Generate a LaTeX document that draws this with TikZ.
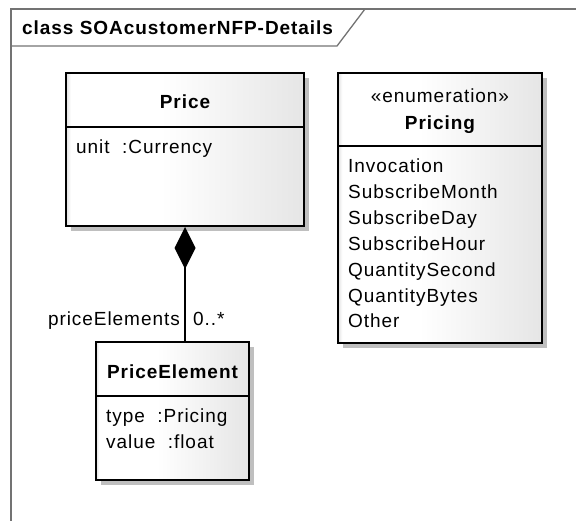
\documentclass[tikz,border=0pt]{standalone}
\usepackage{fontspec}
\setmainfont{Liberation Sans}[LetterSpace=5]
\usetikzlibrary{shadows}
\usetikzlibrary{positioning}
\usetikzlibrary{arrows.meta}
\pgfdeclarehorizontalshading{umlfill}{100bp}{color(0bp)=(black!12); color(25bp)=(black!12); color(26bp)=(white); color(45bp)=(white); color(75bp)=(black!10); color(100bp)=(black!10)}

\begin{document}
\begin{tikzpicture}
  [x=1pt,y=-1pt,
  classbox/.style={rectangle,draw=black,line width=2pt,inner sep=0pt,shade,shading=umlfill,drop shadow={shadow xshift=5pt,shadow yshift=-5pt,fill=black!25,opacity=1}},
  txt/.style={inner sep=0pt,font=\fontsize{19}{22}\selectfont},
  boldtxt/.style={inner sep=0pt,font=\fontsize{19}{22}\selectfont\bfseries},
  divider/.style={black,line width=1.5pt},
  framepen/.style={black!55,line width=1.3pt}]
  \useasboundingbox (0,0) rectangle (576,521);

  \draw [framepen] (576,9) -- (11,9) -- (11,521);
  \draw [framepen] (11,46) -- (337,46) -- (365,9);
  \node[boldtxt,anchor=base west] (frameTitle) at (22,35) {class SOAcustomerNFP-Details};

  \node[classbox,minimum width=238pt,minimum height=153pt] (price) at (185,149.5) {};
  \node[classbox,minimum width=204pt,minimum height=270pt] (pricing) at (440,208) {};
  \node[classbox,minimum width=153pt,minimum height=138pt] (priceElem) at (172.5,411) {};

  \draw [divider] (price.west |- 0,127) -- (price.east |- 0,127);
  \draw [divider] (pricing.west |- 0,146) -- (pricing.east |- 0,146);
  \draw [divider] (priceElem.west |- 0,396) -- (priceElem.east |- 0,396);

  \node[boldtxt,anchor=base] (priceName) at (185,109) {Price};
  \node[txt,anchor=base west] (priceAttr) at (76,154) {unit\ \ :Currency};

  \node[txt,anchor=base] (stereo) at (440,103) {«enumeration»};
  \node[boldtxt,anchor=base] (pricingName) at (440,130) {Pricing};
  \node[txt,anchor=base west] (lit1) at (348,173) {Invocation};
  \node[txt,anchor=base west] (lit2) at (348,198.8) {SubscribeMonth};
  \node[txt,anchor=base west] (lit3) at (348,224.7) {SubscribeDay};
  \node[txt,anchor=base west] (lit4) at (348,250.5) {SubscribeHour};
  \node[txt,anchor=base west] (lit5) at (348,276.3) {QuantitySecond};
  \node[txt,anchor=base west] (lit6) at (348,302.2) {QuantityBytes};
  \node[txt,anchor=base west] (lit7) at (348,328) {Other};

  \node[boldtxt,anchor=base] (elemName) at (172.5,379) {PriceElement};
  \node[txt,anchor=base west] (elemAttr1) at (106,423) {type\ \ :Pricing};
  \node[txt,anchor=base west] (elemAttr2) at (106,449) {value\ \ :float};

  \draw [black,line width=1.5pt,-{Diamond[length=42pt,width=21pt,fill=black]}] (priceElem.north -| price.south) -- (price.south);
  \node[txt,anchor=base east] (roleLbl) at (180,326) {priceElements};
  \node[txt,anchor=base west] (multLbl) at (193,326) {0..*};

\end{tikzpicture}
\end{document}
